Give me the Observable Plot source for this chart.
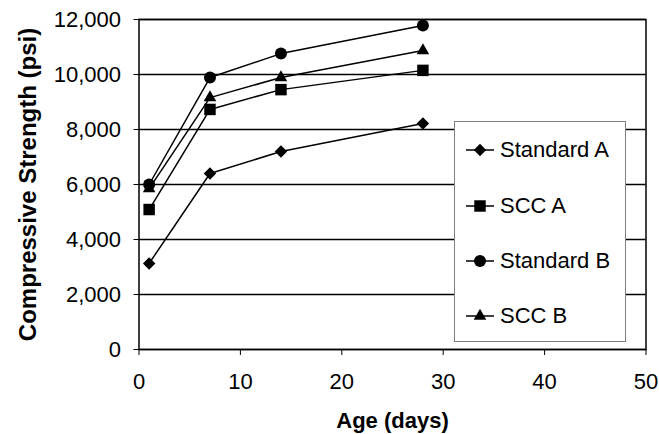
<!DOCTYPE html>
<html>
<head>
<meta charset="utf-8">
<script src="https://cdn.jsdelivr.net/npm/d3@7"></script>
<script src="https://cdn.jsdelivr.net/npm/@observablehq/plot@0.6"></script>
<style>
  html, body { margin: 0; padding: 0; background: #fff; }
  #wrap { position: relative; width: 659px; height: 434px; font-family: "Liberation Sans", Arial, sans-serif; }
  #legend { position: absolute; left: 454px; top: 121px; width: 170px; height: 219px; border: 1px solid #808080; background: #fff; }
  .row { position: absolute; left: 0; height: 30px; display: flex; align-items: center; font-size: 22px; color: #000; }
  .row svg { margin-left: 11px; margin-right: 6px; }
</style>
</head>
<body>
<div id="wrap"></div>
<script>
const days = [1, 7, 14, 28];
const seriesNames = ["Standard A", "SCC A", "Standard B", "SCC B"];
const standardA = [3130, 6400, 7200, 8220];
const sccA = [5090, 8730, 9450, 10150];
const standardB = [6000, 9890, 10760, 11780];
const sccB = [5850, 9160, 9890, 10870];
const xTicks = [0, 10, 20, 30, 40, 50];
const yTicks = [0, 2000, 4000, 6000, 8000, 10000, 12000];

const seriesValues = [standardA, sccA, standardB, sccB];
const symbols = ["diamond2", "square2", "circle", "triangle2"];
const radii = [5.6, 7.3, 6, 6];

const data = [];
seriesNames.forEach((name, i) => {
  days.forEach((d, j) => data.push({series: name, day: d, value: seriesValues[i][j]}));
});

const marks = [
  Plot.gridY(yTicks, {stroke: "#000", strokeOpacity: 1, strokeWidth: 1.3}),
  Plot.frame({stroke: "#000", strokeWidth: 1.5}),
  Plot.axisY({ticks: yTicks, tickFormat: d3.format(","), tickSize: 5, tickPadding: 13, label: null, fontSize: 22}),
  Plot.axisX({ticks: xTicks, tickSize: 6, tickPadding: 18, label: null, fontSize: 22}),
  Plot.line(data, {x: "day", y: "value", z: "series", stroke: "#000", strokeWidth: 1.5}),
];
seriesNames.forEach((name, i) => {
  marks.push(Plot.dot(data.filter(d => d.series === name), {x: "day", y: "value", symbol: () => symbols[i], r: radii[i], fill: "#000", stroke: "none"}));
});
marks.push(Plot.text(["Age (days)"], {frameAnchor: "bottom", dy: 71, fontWeight: "bold", fontSize: 22, lineAnchor: "middle", fill: "#000"}));
marks.push(Plot.text(["Compressive Strength (psi)"], {frameAnchor: "left", dx: -111, rotate: -90, textAnchor: "middle", fontWeight: "bold", fontSize: 24, lineAnchor: "middle", fill: "#000"}));

const chart = Plot.plot({
  width: 659,
  height: 434,
  marginLeft: 138.5,
  marginRight: 13.5,
  marginTop: 19,
  marginBottom: 85,
  style: {fontFamily: "Liberation Sans, Arial, sans-serif", fontSize: "22px", color: "#000", background: "#fff", overflow: "visible"},
  x: {domain: [0, 50]},
  y: {domain: [0, 12000]},
  marks
});

const wrap = document.getElementById("wrap");
wrap.appendChild(chart);

// legend
const legend = document.createElement("div");
legend.id = "legend";
const rowTops = [13, 69, 124, 179];
seriesNames.forEach((name, i) => {
  const row = document.createElement("div");
  row.className = "row";
  row.style.top = rowTops[i] + "px";
  const svg = d3.create("svg").attr("width", 28).attr("height", 30);
  svg.append("line").attr("x1", 0).attr("x2", 28).attr("y1", 15).attr("y2", 15).attr("stroke", "#000").attr("stroke-width", 1.5);
  const sym = {diamond2: d3.symbolDiamond2, square2: d3.symbolSquare2, circle: d3.symbolCircle, triangle2: d3.symbolTriangle2}[symbols[i]];
  svg.append("path").attr("transform", "translate(14,15)").attr("d", d3.symbol(sym, Math.PI * radii[i] * radii[i])()).attr("fill", "#000");
  row.appendChild(svg.node());
  const span = document.createElement("span");
  span.textContent = name;
  row.appendChild(span);
  legend.appendChild(row);
});
wrap.appendChild(legend);
</script>
</body>
</html>
